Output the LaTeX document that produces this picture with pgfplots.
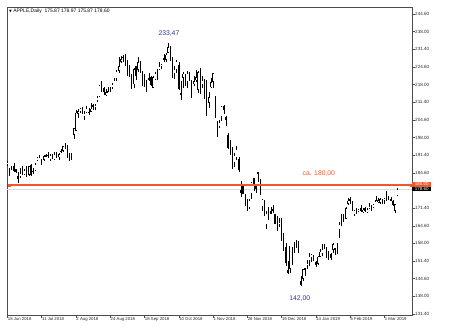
\documentclass[border=0pt]{standalone}
\usepackage{pgfplots}
\pgfplotsset{compat=1.18}
\usepackage{pgfplotstable}
\usepackage{fontspec}
\setmainfont{Liberation Sans}
\newfontfamily\dejavu{DejaVu Sans}
\definecolor{ora}{RGB}{238,88,45}
\definecolor{annblue}{RGB}{45,45,175}

\pgfplotstableread{
i o h l c
0 187.88 189.22 187.20 188.74
1 185.14 186.33 183.45 185.69
2 186.35 187.20 185.73 186.50
3 187.25 188.35 184.94 185.46
4 186.12 186.15 184.70 184.92
5 183.40 184.92 180.73 182.17
6 182.99 186.53 182.54 184.43
7 185.23 187.28 184.03 184.16
8 184.10 186.21 183.80 185.50
9 186.29 187.19 182.91 185.11
10 183.82 187.30 183.42 187.18
11 187.79 187.95 183.54 183.92
12 185.26 186.41 184.28 185.40
13 185.42 188.43 185.20 187.97
14 189.50 190.68 189.30 190.58
15 190.71 191.28 190.18 190.35
16 188.50 189.78 187.61 187.88
17 189.53 191.41 189.31 191.03
18 191.08 191.84 190.90 191.33
19 191.52 192.65 190.42 190.91
20 189.75 191.87 189.20 191.45
21 191.78 191.80 189.93 190.40
22 189.69 192.55 189.69 191.88
23 191.78 192.43 190.17 191.44
24 190.68 191.96 189.56 191.61
25 192.45 193.66 192.05 193.00
26 193.06 194.85 192.43 194.82
27 194.61 195.96 193.61 194.21
28 194.99 195.19 190.10 190.98
29 191.90 192.20 189.07 189.91
30 190.30 192.14 189.34 190.29
31 199.13 201.76 197.31 201.50
32 200.58 208.38 200.35 207.39
33 207.03 208.74 205.48 207.99
34 208.00 209.25 207.07 209.07
35 209.32 209.50 206.76 207.11
36 206.05 207.81 204.52 207.25
37 207.28 209.78 207.20 208.88
38 207.36 209.10 206.67 207.53
39 207.70 210.95 207.70 208.87
40 210.16 210.56 208.26 209.75
41 209.22 210.74 208.33 210.24
42 211.75 213.81 211.47 213.32
43 213.44 217.95 213.16 217.58
44 218.10 219.18 215.11 215.46
45 216.80 217.19 214.03 215.04
46 214.10 216.36 213.84 215.05
47 214.65 217.05 214.60 215.49
48 216.60 216.90 215.11 216.16
49 217.15 218.74 216.33 217.94
50 219.01 220.54 218.92 219.70
51 220.15 223.49 219.41 222.98
52 223.25 228.26 222.40 225.03
53 226.51 228.87 226.00 227.63
54 228.41 229.18 226.63 228.36
55 228.99 229.67 225.10 226.87
56 226.23 227.35 221.30 223.10
57 221.85 225.37 220.71 221.30
58 220.95 221.85 216.47 218.33
59 218.01 224.30 216.56 223.85
60 224.94 225.00 219.84 221.07
61 223.52 228.35 222.57 226.41
62 225.75 226.84 222.52 223.84
63 222.15 222.95 217.27 217.88
64 217.79 221.85 217.12 218.24
65 218.50 219.62 215.30 218.37
66 220.24 222.28 219.15 220.03
67 220.78 221.36 217.29 217.66
68 216.82 221.26 216.63 220.79
69 219.75 222.82 219.70 222.19
70 221.00 223.75 219.76 220.42
71 223.82 226.44 223.54 224.95
72 224.79 225.84 224.02 225.74
73 227.95 229.42 226.35 227.26
74 227.25 230.00 226.63 229.28
75 230.05 233.47 229.78 232.07
76 230.78 232.35 226.73 227.99
77 227.96 228.41 220.58 224.29
78 222.21 224.80 220.20 223.77
79 223.64 227.27 222.25 226.87
80 225.46 226.35 216.05 216.36
81 214.52 219.50 212.32 214.45
82 220.42 222.88 216.84 222.11
83 221.16 221.83 217.27 217.36
84 218.93 222.99 216.76 222.15
85 222.30 222.64 219.34 221.19
86 217.86 219.74 213.00 216.02
87 218.06 221.26 217.43 219.31
88 219.79 223.36 218.94 220.65
89 215.83 223.25 214.70 222.73
90 222.60 224.23 214.54 215.09
91 217.71 221.38 216.75 219.80
92 215.90 220.19 212.67 216.30
93 219.19 219.69 206.09 212.24
94 211.15 215.18 209.27 213.30
95 216.88 220.45 216.62 218.86
96 219.05 222.36 216.81 222.22
97 209.55 213.65 205.43 207.48
98 204.30 204.39 198.17 201.59
99 201.92 204.72 201.69 203.77
100 205.97 210.06 204.13 209.95
101 209.98 210.12 206.75 208.49
102 205.55 206.01 202.25 204.47
103 199.00 199.85 193.79 194.17
104 191.63 197.18 191.45 192.23
105 193.90 194.48 185.93 186.80
106 188.39 191.97 186.90 191.41
107 190.50 194.97 189.46 193.53
108 190.00 190.70 184.99 185.86
109 178.37 181.47 175.51 176.98
110 179.73 180.27 176.55 176.78
111 174.94 176.60 172.10 172.29
112 174.24 174.95 170.26 174.62
113 171.51 174.77 170.88 174.24
114 176.73 181.29 174.93 180.94
115 182.66 182.80 177.70 179.55
116 180.29 180.33 177.03 178.58
117 184.46 184.94 181.21 184.82
118 180.95 182.39 176.27 176.69
119 171.76 174.78 170.42 174.72
120 173.49 174.49 168.30 168.49
121 165.00 170.09 163.33 169.60
122 171.66 171.79 167.00 168.63
123 170.40 171.92 169.02 169.10
124 170.49 172.57 169.55 170.95
125 169.00 169.08 165.28 165.48
126 165.45 168.35 162.73 163.94
127 165.38 167.53 164.39 166.07
128 166.00 167.45 159.09 160.89
129 160.40 162.11 155.30 156.83
130 156.86 158.16 149.63 150.73
131 148.15 151.55 146.59 146.83
132 148.30 157.23 146.72 157.17
133 155.84 156.77 150.07 156.15
134 157.50 158.52 154.55 156.23
135 158.53 159.36 156.48 157.74
136 154.89 158.85 154.23 157.92
137 143.98 145.72 142.00 142.19
138 144.53 148.55 143.80 148.26
139 148.70 148.83 145.90 147.93
140 149.56 151.82 148.52 150.75
141 151.29 154.53 149.63 153.31
142 152.50 153.97 150.86 153.80
143 152.88 153.70 151.51 152.29
144 150.85 151.27 149.22 150.00
145 150.27 153.39 150.05 153.07
146 153.08 155.88 153.00 154.94
147 154.20 157.66 153.26 155.86
148 157.50 157.88 155.98 156.82
149 156.41 156.73 152.62 153.30
150 154.15 155.14 151.70 153.92
151 154.11 154.48 151.74 152.70
152 155.48 158.13 154.32 157.76
153 155.79 156.33 153.66 156.30
154 156.25 158.13 154.11 154.68
155 163.25 166.15 160.23 165.25
156 166.11 169.00 164.56 166.44
157 166.96 168.98 165.93 166.52
158 167.41 171.66 167.28 171.25
159 172.86 175.08 172.35 174.18
160 174.65 175.57 172.85 174.24
161 172.40 173.94 170.34 170.94
162 168.99 170.66 168.42 170.41
163 171.05 171.21 169.25 169.43
164 170.10 171.00 169.70 170.89
165 171.39 172.48 169.92 170.18
166 169.71 171.26 169.38 170.80
167 171.25 171.70 169.75 170.42
168 169.71 171.44 169.49 170.93
169 171.19 173.32 170.99 172.03
170 171.80 172.37 170.30 171.06
171 171.58 173.00 171.38 172.97
172 174.16 175.87 173.95 174.23
173 173.71 175.30 173.17 174.33
174 173.21 175.00 172.73 174.87
175 174.32 174.91 172.92 173.15
176 174.28 175.15 172.89 174.97
177 175.69 177.75 173.97 175.85
178 175.94 176.00 174.54 175.53
179 174.67 175.49 173.94 174.52
180 173.87 174.44 172.02 172.50
181 170.32 173.07 169.50 172.91
182 175.87 178.97 175.87 178.60
}\ohlc

\begin{document}
\begin{tikzpicture}
\begin{axis}[
  at={(0,0)}, anchor=south west,
  scale only axis, width=405bp, height=308bp,
  xmin=-0.2, xmax=188.9, ymin=131.02, ymax=247.24,
  axis line style={black!70, line width=0.5bp},
  tick style={black!70, line width=0.4bp},
  tick align=outside,
  major tick length=2.5bp,
  xtick pos=bottom, ytick pos=right,
  yticklabel pos=right,
  xtick={0,16,...,176},
  xticklabels={18 Jun 2018, 11 Jul 2018, 2 Aug 2018, 24 Aug 2018, 18 Sep 2018, 10 Oct 2018, 1 Nov 2018, 26 Nov 2018, 19 Dec 2018, 14 Jan 2019, 6 Feb 2019, 1 Mar 2019},
  xticklabel style={font=\fontsize{4.3}{5}\selectfont, anchor=north west, inner sep=0pt, xshift=0.3bp, yshift=0bp, text=black!85},
  ytick={131.400,138.059,144.718,151.376,158.035,164.694,171.353,178.012,184.671,191.329,197.988,204.647,211.306,217.965,224.624,231.282,237.941,244.600},
  yticklabels={131.40,138.00,144.60,151.40,158.00,164.60,171.40,{},184.60,191.40,198.00,204.60,211.40,218.00,224.60,231.40,238.00,244.60},
  yticklabel style={font=\fontsize{4.6}{5}\selectfont, anchor=west, inner sep=0pt, xshift=0.5bp, text=black!85},
  clip mode=individual,
  cycle list={{draw=none, mark=none}},
]
% bid line
\addplot[forget plot, black!15, line width=0.8bp] coordinates {(-0.2,178.6) (188.9,178.6)};
% wicks
\addplot[forget plot, draw=none, mark=none,
  error bars/.cd, y dir=both, y explicit, error mark=none,
  error bar style={draw=black, line width=0.45bp, line cap=butt}]
  table[x=i, y expr={(\thisrow{h}+\thisrow{l})/2}, y error expr={(\thisrow{h}-\thisrow{l})/2}] {\ohlc};
% bodies
\addplot[forget plot, draw=none, mark=none,
  error bars/.cd, y dir=both, y explicit, error mark=none,
  error bar style={draw=black, line width=1.3bp, line cap=butt}]
  table[x=i, y expr={(\thisrow{o}+\thisrow{c})/2}, y error expr={max(abs(\thisrow{o}-\thisrow{c})/2,0.15)}] {\ohlc};
% hollow up bodies
\addplot[forget plot, draw=none, mark=none,
  error bars/.cd, y dir=both, y explicit, error mark=none,
  error bar style={draw=white, line width=0.4bp, line cap=butt}]
  table[x=i, y expr={(\thisrow{o}+\thisrow{c})/2}, y error expr={(\thisrow{c}>\thisrow{o}) ? max((\thisrow{c}-\thisrow{o})/2-0.3,0) : 0}] {\ohlc};
% 180 level line
\addplot[forget plot, ora, line width=1.4bp, mark=square*, mark size=0.9bp, mark options={fill=ora, draw=ora}] coordinates {(0.9,180) (188.5,180)};
% annotations
\node[annblue, font=\fontsize{6.8}{8}\selectfont, inner sep=0pt] at (axis cs:75.4,237.3) {233,47};
\node[annblue, font=\fontsize{6.8}{8}\selectfont, inner sep=0pt] at (axis cs:136.5,137.3) {142,00};
\node[ora, font=\fontsize{6.8}{8}\selectfont, inner sep=0pt] at (axis cs:145.4,184.2) {ca. 180,00};
% price labels
\node[anchor=west, fill=ora, text=white, font=\fontsize{4.5}{5}\selectfont, inner xsep=1bp, inner ysep=0.5bp, minimum width=19bp, minimum height=5bp] at (axis cs:188.9,180.4) {180.00};
\node[anchor=west, fill=black, text=white, font=\fontsize{4.5}{5}\selectfont, inner xsep=1bp, inner ysep=0.5bp, minimum width=19bp, minimum height=4.6bp] at (axis cs:188.9,178.5) {178.60};
\end{axis}
\node[anchor=west, inner sep=0pt, font=\fontsize{5}{6}\selectfont] at (2bp,303.3bp) {{\dejavu\fontsize{3.5}{4}\selectfont ▼}\ APPLE,Daily\ \ 175.87 178.97 175.87 178.60};
\pgfresetboundingbox
\path[use as bounding box] (-7bp,-21bp) rectangle (443bp,315bp);
\end{tikzpicture}
\end{document}
